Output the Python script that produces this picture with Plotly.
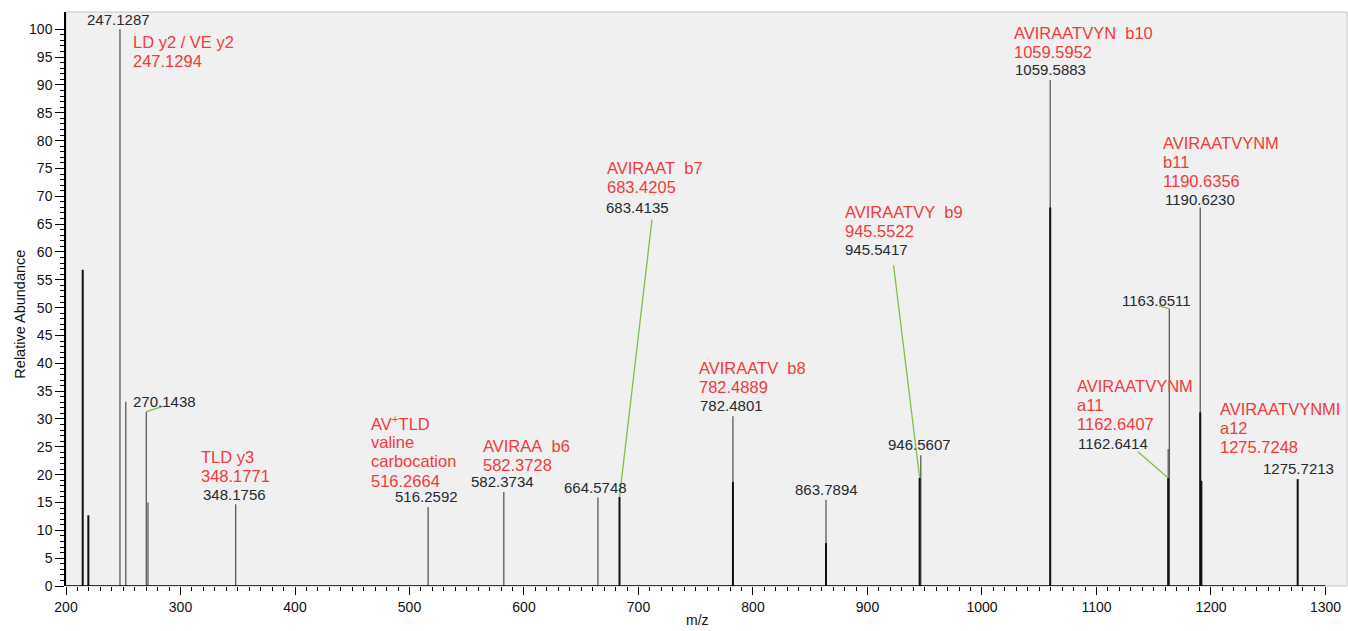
import plotly.graph_objects as go

# ---- spectrum data -------------------------------------------------------
# thin grey profile sticks (m/z, relative abundance)
profile_mz = [247.1287, 252.2, 270.1438, 271.6, 348.1756, 516.2592, 582.3734,
              664.5748, 782.4801, 863.7894, 946.5607, 1059.5883, 1162.6414,
              1163.6511, 1190.6230]
profile_int = [100.0, 33.1, 31.3, 15.0, 14.7, 14.2, 16.9,
               15.9, 30.5, 15.5, 23.5, 90.9, 24.6,
               49.8, 68.0]

# heavy black centroid sticks
centroid_mz = [214.6, 219.5, 683.4135, 782.4801, 863.7894, 945.5417,
               1059.5883, 1162.6414, 1190.6230, 1191.6, 1275.7213]
centroid_int = [56.8, 12.7, 16.0, 18.7, 7.7, 19.4,
                68.0, 19.4, 31.2, 18.9, 19.2]

# observed m/z labels
peak_labels = [247.1287, 270.1438, 348.1756, 516.2592, 582.3734, 664.5748,
               683.4135, 782.4801, 863.7894, 945.5417, 946.5607, 1059.5883,
               1162.6414, 1163.6511, 1190.6230, 1275.7213]

# fragment assignments with theoretical m/z
ion_names = [["LD y2 / VE y2"], ["TLD y3"], ["AV<sup>+</sup>TLD", "valine", "carbocation"],
             ["AVIRAA\u00a0 b6"], ["AVIRAAT\u00a0 b7"], ["AVIRAATV\u00a0 b8"],
             ["AVIRAATVY\u00a0 b9"], ["AVIRAATVYN\u00a0 b10"], ["AVIRAATVYNM", "b11"],
             ["AVIRAATVYNM", "a11"], ["AVIRAATVYNMI", "a12"]]
ion_theo = [247.1294, 348.1771, 516.2664, 582.3728, 683.4205, 782.4889,
            945.5522, 1059.5952, 1190.6356, 1162.6407, 1275.7248]

x_ticks = [200, 300, 400, 500, 600, 700, 800, 900, 1000, 1100, 1200, 1300]
y_ticks = list(range(0, 101, 5))

# ---- label placement (data coordinates) ---------------------------------
Y_PER_PX = 1 / 5.565          # abundance units per pixel
LINE_STEP = 19.1 * Y_PER_PX    # spacing between stacked label lines

peak_label_pos = {
    247.1287: (245.5, 101.8, "center"),
    270.1438: (257.0, 33.1, "left"),
    348.1756: (347.0, 16.5, "center"),
    516.2592: (514.7, 16.0, "center"),
    582.3734: (581.3, 18.7, "center"),
    664.5748: (662.3, 17.7, "center"),
    683.4135: (670.0, 67.9, "left"),
    782.4801: (752.4, 32.5, "left"),
    863.7894: (864.1, 17.3, "center"),
    945.5417: (878.7, 60.5, "left"),
    946.5607: (945.2, 25.5, "center"),
    1059.5883: (1027.0, 92.7, "left"),
    1162.6414: (1082.5, 25.6, "left"),
    1163.6511: (1152.8, 51.3, "center"),
    1190.6230: (1157.9, 69.5, "left"),
    1275.7213: (1243.5, 21.1, "left"),
}
# left edge and first-line centre of each assignment block
ion_pos = [(256.9, 97.75), (316.3, 23.23), (464.2, 29.24), (562.3, 25.16),
           (670.9, 75.06), (751.5, 39.12), (878.7, 67.26), (1026.1, 99.32),
           (1156.7, 79.66), (1081.4, 35.94), (1206.5, 31.75)]

# leader lines from label to peak apex
leaders = [((270.1438, 31.3), (285.5, 32.3)),
           ((683.4135, 16.0), (711.8, 65.8)),
           ((945.5417, 19.4), (922.8, 57.6)),
           ((1162.6414, 19.4), (1136.2, 24.1)),
           ((1163.6511, 49.8), (1154.3, 50.3))]


def sticks(mz, inten):
    xs, ys = [], []
    for m, h in zip(mz, inten):
        xs += [m, m, None]
        ys += [0, h, None]
    return xs, ys


FONT = "Liberation Sans, Arial, sans-serif"
RED = "#f23a3a"
INK = "#262a30"

fig = go.Figure()
px, py = sticks(profile_mz, profile_int)
fig.add_trace(go.Scatter(x=px, y=py, mode="lines", hoverinfo="skip",
                         line=dict(color="#5a5a5a", width=1.3)))
cx, cy = sticks(centroid_mz, centroid_int)
fig.add_trace(go.Scatter(x=cx, y=cy, mode="lines", hoverinfo="skip",
                         line=dict(color="#111111", width=2)))

annotations = []
for mz in peak_labels:
    ax, ay, anchor = peak_label_pos[mz]
    annotations.append(dict(x=ax, y=ay, xref="x", yref="y", text=f"{mz:.4f}",
                            showarrow=False, xanchor=anchor, yanchor="middle",
                            font=dict(family=FONT, size=15, color=INK)))
for names, theo, (ax, ay) in zip(ion_names, ion_theo, ion_pos):
    lines = names + [f"{theo:.4f}"]
    for i, line in enumerate(lines):
        annotations.append(dict(x=ax, y=ay - i * LINE_STEP, xref="x", yref="y",
                                text=line, showarrow=False,
                                xanchor="left", yanchor="middle",
                                font=dict(family=FONT, size=16.5, color=RED)))

annotations.append(dict(x=751.4, y=-0.059, xref="x", yref="paper", text="m/z",
                        showarrow=False, xanchor="center", yanchor="middle",
                        font=dict(family=FONT, size=14, color="#111")))
annotations.append(dict(x=-0.036, y=48.9, xref="paper", yref="y",
                        text="Relative Abundance", textangle=-90,
                        showarrow=False, xanchor="center", yanchor="middle",
                        font=dict(family=FONT, size=14.5, color="#111")))

shapes = [dict(type="rect", xref="paper", yref="paper", x0=0, x1=1, y0=0, y1=1,
               line=dict(color="#c4c4c4", width=1), layer="below"),
          dict(type="line", xref="x", yref="y", x0=200, x1=1300, y0=0, y1=0,
               line=dict(color="#000", width=1.5))]
for (x0, y0), (x1, y1) in leaders:
    shapes.append(dict(type="line", xref="x", yref="y", x0=x0, y0=y0, x1=x1, y1=y1,
                       line=dict(color="#7cc04a", width=1.3)))

fig.update_layout(
    width=1348, height=631,
    margin=dict(l=66, r=1, t=12, b=45),
    paper_bgcolor="white", plot_bgcolor="#f0f0f0",
    showlegend=False,
    annotations=annotations, shapes=shapes,
    font=dict(family=FONT, size=14, color="#111"),
    xaxis=dict(range=[200, 1318.8], showgrid=False, zeroline=False, showline=False,
               tickmode="array", tickvals=x_ticks, ticks="outside", ticklen=8,
               tickcolor="#000", tickwidth=1,
               tickfont=dict(family=FONT, size=14, color="#111"),
               minor=dict(tickmode="array",
                          tickvals=[v for v in range(200, 1301, 10) if v % 100],
                          ticks="outside", ticklen=4, tickcolor="#000")),
    yaxis=dict(range=[0, 103.1], showgrid=False, zeroline=False, showline=True,
               linecolor="#000", linewidth=1.5, mirror=False,
               tickmode="array", tickvals=y_ticks, ticks="outside", ticklen=9,
               tickcolor="#000", tickwidth=1,
               tickfont=dict(family=FONT, size=14, color="#111"),
               minor=dict(tickmode="array",
                          tickvals=[v for v in range(0, 101) if v % 5],
                          ticks="outside", ticklen=4, tickcolor="#000")),
)

fig.write_html("out.html")
